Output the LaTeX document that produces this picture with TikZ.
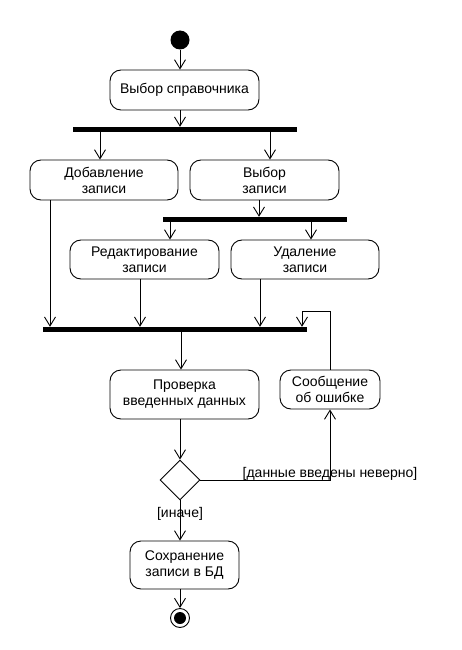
\documentclass[tikz,border=0pt]{standalone}
\usepackage{fontspec}
\setmainfont{Liberation Sans}
\usetikzlibrary{arrows.meta}
\usetikzlibrary{shapes.geometric}
\tikzset{>={Straight Barb[length=9pt,width=11pt]}}
\tikzstyle{activity}=[draw,line width=0.9pt,rounded corners=11pt,align=center,inner sep=0pt]
\tikzstyle{bar}=[fill=black,inner sep=0pt,minimum height=5pt]
\tikzstyle{flow}=[->,line width=0.9pt]

\begin{document}
\begin{tikzpicture}[x=1pt,y=-1pt,font=\fontsize{14}{16}\selectfont]
  \useasboundingbox (0,0) rectangle (462,650);

  % start, end
  \node[circle,fill=black,minimum size=19pt,inner sep=0pt] (start) at (180,40) {};
  \node[circle,draw,line width=0.9pt,minimum size=19pt,inner sep=0pt] (end) at (180,618) {};
  \fill (end) circle (6pt);

  % activities
  \node[activity,minimum width=149pt,minimum height=40pt] (choose) at (184.5,90) {Выбор справочника};
  \node[activity,minimum width=148pt,minimum height=40pt] (add) at (104,180) {Добавление\\записи};
  \node[activity,minimum width=149pt,minimum height=40pt] (sel) at (264.5,180) {Выбор\\записи};
  \node[activity,minimum width=149pt,minimum height=39pt] (edit) at (144.5,259.5) {Редактирование\\записи};
  \node[activity,minimum width=148pt,minimum height=39pt] (del) at (305,259.5) {Удаление\\записи};
  \node[activity,minimum width=149pt,minimum height=49pt] (check) at (184.5,394.5) {Проверка\\введенных данных};
  \node[activity,minimum width=100pt,minimum height=39pt] (err) at (330,389.5) {Сообщение\\об ошибке};
  \node[activity,minimum width=109pt,minimum height=48pt] (save) at (184.5,565) {Сохранение\\записи в БД};
  \node[diamond,draw,line width=0.9pt,minimum width=40pt,minimum height=40pt,inner sep=0pt] (dec) at (180,480) {};

  % fork / join bars
  \node[bar,minimum width=224pt] (fork1) at (185,129.5) {};
  \node[bar,minimum width=184pt] (fork2) at (255,219.5) {};
  \node[bar,minimum width=264pt] (join) at (175,329.5) {};

  % flows
  \draw[flow] (start) -- (start |- choose.north);
  \draw[flow] (start |- choose.south) -- (start |- fork1.north);
  \draw[flow] ([xshift=-85pt]fork1.south) coordinate (f1a) -- (f1a |- add.north);
  \draw[flow] ([xshift=85pt]fork1.south) coordinate (f1b) -- (f1b |- sel.north);
  \draw[flow] ([xshift=-5.5pt]sel.south) coordinate (s1) -- (s1 |- fork2.north);
  \draw[flow] ([xshift=-85pt]fork2.south) coordinate (f2a) -- (f2a |- edit.north);
  \draw[flow] ([xshift=56pt]fork2.south) coordinate (f2b) -- (f2b |- del.north);
  \draw[flow] ([xshift=-54pt]add.south) coordinate (a1) -- (a1 |- join.north);
  \draw[flow] ([xshift=-4.5pt]edit.south) coordinate (e1) -- (e1 |- join.north);
  \draw[flow] ([xshift=-45pt]del.south) coordinate (d1) -- (d1 |- join.north);
  \draw[flow] ([xshift=6pt]join.south) coordinate (j1) -- (j1 |- check.north);
  \draw[flow] ([xshift=-4.5pt]check.south) -- (dec.north);
  \draw[flow] (dec.east) -| (err.south);
  \coordinate (loop) at (302,311);
  \draw[flow] (err.north) |- (loop) -- (loop |- join.north);
  \draw[flow] (dec.south) -- (dec.south |- save.north);
  \draw[flow] (end |- save.south) -- (end);

  % guards
  \node[anchor=base] (wrong) at (330,477) {[данные введены неверно]};
  \node[anchor=base] (other) at (180,517) {[иначе]};

\end{tikzpicture}
\end{document}
